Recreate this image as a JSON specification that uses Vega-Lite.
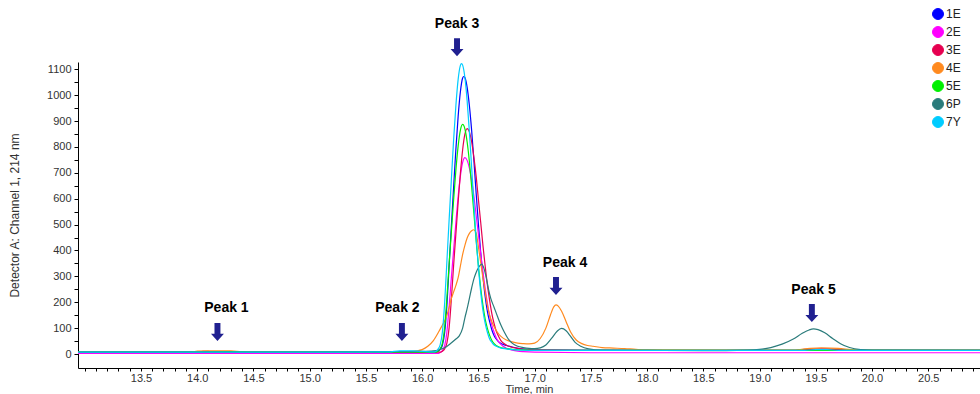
{
  "$schema": "https://vega.github.io/schema/vega-lite/v6.json",
  "width": 902,
  "height": 306,
  "autosize": "none",
  "padding": {"left": 78, "top": 62, "right": 0, "bottom": 26},
  "background": "#ffffff",
  "config": {
    "view": {"stroke": null},
    "font": "Liberation Sans",
    "axis": {"grid": false, "domainColor": "#000", "tickColor": "#000", "tickSize": 4, "labelColor": "#333", "labelFontSize": 11, "labelFont": "Liberation Sans", "titleFont": "Liberation Sans", "titleFontSize": 11, "titleFontWeight": "normal", "titleColor": "#333", "labelOverlap": false}
  },
  "datasets": {
    "chrom": [
      {"s":"1E","t":12.94,"v":7},{"s":"1E","t":14.0,"v":7},{"s":"1E","t":15.0,"v":7},{"s":"1E","t":15.5,"v":8},{"s":"1E","t":16.0,"v":8},{"s":"1E","t":16.12,"v":8},{"s":"1E","t":16.14,"v":10},{"s":"1E","t":16.16,"v":18},{"s":"1E","t":16.18,"v":34},{"s":"1E","t":16.20,"v":82},{"s":"1E","t":16.22,"v":188},{"s":"1E","t":16.24,"v":342},{"s":"1E","t":16.26,"v":497},{"s":"1E","t":16.28,"v":646},{"s":"1E","t":16.30,"v":792},{"s":"1E","t":16.32,"v":918},{"s":"1E","t":16.34,"v":1013},{"s":"1E","t":16.36,"v":1066},{"s":"1E","t":16.37,"v":1072},{"s":"1E","t":16.38,"v":1068},{"s":"1E","t":16.40,"v":1030},{"s":"1E","t":16.42,"v":959},{"s":"1E","t":16.44,"v":864},{"s":"1E","t":16.46,"v":748},{"s":"1E","t":16.48,"v":622},{"s":"1E","t":16.50,"v":503},{"s":"1E","t":16.52,"v":395},{"s":"1E","t":16.54,"v":302},{"s":"1E","t":16.56,"v":223},{"s":"1E","t":16.58,"v":165},{"s":"1E","t":16.60,"v":125},{"s":"1E","t":16.62,"v":93},{"s":"1E","t":16.64,"v":71},{"s":"1E","t":16.66,"v":57},{"s":"1E","t":16.68,"v":47},{"s":"1E","t":16.70,"v":41},{"s":"1E","t":16.75,"v":33},{"s":"1E","t":16.80,"v":27},{"s":"1E","t":16.85,"v":22},{"s":"1E","t":16.90,"v":19},{"s":"1E","t":17.00,"v":16},{"s":"1E","t":17.5,"v":14},{"s":"1E","t":19.3,"v":14},{"s":"1E","t":19.45,"v":18},{"s":"1E","t":19.6,"v":19},{"s":"1E","t":19.75,"v":16},{"s":"1E","t":19.9,"v":14},{"s":"1E","t":20.96,"v":14},
      {"s":"2E","t":12.94,"v":2},{"s":"2E","t":15.0,"v":2},{"s":"2E","t":16.0,"v":2},{"s":"2E","t":16.14,"v":2},{"s":"2E","t":16.16,"v":6},{"s":"2E","t":16.18,"v":13},{"s":"2E","t":16.20,"v":32},{"s":"2E","t":16.22,"v":85},{"s":"2E","t":16.24,"v":184},{"s":"2E","t":16.26,"v":297},{"s":"2E","t":16.28,"v":403},{"s":"2E","t":16.30,"v":509},{"s":"2E","t":16.32,"v":608},{"s":"2E","t":16.34,"v":687},{"s":"2E","t":16.36,"v":740},{"s":"2E","t":16.38,"v":759},{"s":"2E","t":16.40,"v":748},{"s":"2E","t":16.42,"v":718},{"s":"2E","t":16.44,"v":672},{"s":"2E","t":16.46,"v":610},{"s":"2E","t":16.48,"v":537},{"s":"2E","t":16.50,"v":463},{"s":"2E","t":16.52,"v":390},{"s":"2E","t":16.54,"v":318},{"s":"2E","t":16.56,"v":254},{"s":"2E","t":16.58,"v":197},{"s":"2E","t":16.60,"v":148},{"s":"2E","t":16.62,"v":111},{"s":"2E","t":16.64,"v":84},{"s":"2E","t":16.66,"v":62},{"s":"2E","t":16.68,"v":48},{"s":"2E","t":16.70,"v":37},{"s":"2E","t":16.75,"v":22},{"s":"2E","t":16.80,"v":15},{"s":"2E","t":16.85,"v":11},{"s":"2E","t":16.90,"v":9},{"s":"2E","t":17.00,"v":7},{"s":"2E","t":17.5,"v":5},{"s":"2E","t":20.96,"v":5},
      {"s":"3E","t":12.94,"v":7},{"s":"3E","t":14.0,"v":7},{"s":"3E","t":14.05,"v":10},{"s":"3E","t":14.1,"v":10},{"s":"3E","t":14.12,"v":7},{"s":"3E","t":15.0,"v":7},{"s":"3E","t":16.0,"v":7},{"s":"3E","t":16.16,"v":7},{"s":"3E","t":16.18,"v":11},{"s":"3E","t":16.20,"v":20},{"s":"3E","t":16.22,"v":42},{"s":"3E","t":16.24,"v":102},{"s":"3E","t":16.26,"v":214},{"s":"3E","t":16.28,"v":344},{"s":"3E","t":16.30,"v":465},{"s":"3E","t":16.32,"v":586},{"s":"3E","t":16.34,"v":698},{"s":"3E","t":16.36,"v":789},{"s":"3E","t":16.38,"v":849},{"s":"3E","t":16.40,"v":871},{"s":"3E","t":16.42,"v":858},{"s":"3E","t":16.44,"v":820},{"s":"3E","t":16.46,"v":760},{"s":"3E","t":16.48,"v":687},{"s":"3E","t":16.50,"v":598},{"s":"3E","t":16.52,"v":511},{"s":"3E","t":16.54,"v":421},{"s":"3E","t":16.56,"v":341},{"s":"3E","t":16.58,"v":267},{"s":"3E","t":16.60,"v":207},{"s":"3E","t":16.62,"v":155},{"s":"3E","t":16.64,"v":117},{"s":"3E","t":16.66,"v":87},{"s":"3E","t":16.68,"v":68},{"s":"3E","t":16.70,"v":52},{"s":"3E","t":16.75,"v":34},{"s":"3E","t":16.80,"v":26},{"s":"3E","t":16.85,"v":22},{"s":"3E","t":16.90,"v":19},{"s":"3E","t":17.00,"v":16},{"s":"3E","t":17.5,"v":14},{"s":"3E","t":19.3,"v":14},{"s":"3E","t":19.4,"v":18},{"s":"3E","t":19.55,"v":19},{"s":"3E","t":19.7,"v":18},{"s":"3E","t":19.8,"v":14},{"s":"3E","t":20.96,"v":14},
      {"s":"4E","t":12.94,"v":7},{"s":"4E","t":13.95,"v":7},{"s":"4E","t":14.0,"v":11},{"s":"4E","t":14.1,"v":12},{"s":"4E","t":14.3,"v":12},{"s":"4E","t":14.4,"v":9},{"s":"4E","t":15.0,"v":8},{"s":"4E","t":15.5,"v":8},{"s":"4E","t":15.8,"v":9},{"s":"4E","t":15.9,"v":10},{"s":"4E","t":15.95,"v":12},{"s":"4E","t":16.00,"v":17},{"s":"4E","t":16.05,"v":30},{"s":"4E","t":16.10,"v":52},{"s":"4E","t":16.15,"v":88},{"s":"4E","t":16.18,"v":112},{"s":"4E","t":16.20,"v":128},{"s":"4E","t":16.22,"v":150},{"s":"4E","t":16.24,"v":180},{"s":"4E","t":16.26,"v":215},{"s":"4E","t":16.28,"v":240},{"s":"4E","t":16.30,"v":265},{"s":"4E","t":16.32,"v":295},{"s":"4E","t":16.34,"v":340},{"s":"4E","t":16.36,"v":385},{"s":"4E","t":16.38,"v":420},{"s":"4E","t":16.40,"v":448},{"s":"4E","t":16.42,"v":466},{"s":"4E","t":16.44,"v":476},{"s":"4E","t":16.46,"v":480},{"s":"4E","t":16.48,"v":468},{"s":"4E","t":16.50,"v":415},{"s":"4E","t":16.52,"v":355},{"s":"4E","t":16.54,"v":295},{"s":"4E","t":16.56,"v":240},{"s":"4E","t":16.58,"v":188},{"s":"4E","t":16.60,"v":150},{"s":"4E","t":16.62,"v":125},{"s":"4E","t":16.64,"v":105},{"s":"4E","t":16.66,"v":90},{"s":"4E","t":16.70,"v":68},{"s":"4E","t":16.75,"v":54},{"s":"4E","t":16.80,"v":47},{"s":"4E","t":16.85,"v":42},{"s":"4E","t":16.90,"v":40},{"s":"4E","t":16.95,"v":39},{"s":"4E","t":17.00,"v":42},{"s":"4E","t":17.05,"v":60},{"s":"4E","t":17.10,"v":100},{"s":"4E","t":17.14,"v":150},{"s":"4E","t":17.17,"v":182},{"s":"4E","t":17.19,"v":190},{"s":"4E","t":17.21,"v":185},{"s":"4E","t":17.24,"v":165},{"s":"4E","t":17.28,"v":125},{"s":"4E","t":17.32,"v":85},{"s":"4E","t":17.37,"v":54},{"s":"4E","t":17.42,"v":40},{"s":"4E","t":17.47,"v":33},{"s":"4E","t":17.52,"v":30},{"s":"4E","t":17.60,"v":25},{"s":"4E","t":17.70,"v":23},{"s":"4E","t":17.80,"v":21},{"s":"4E","t":17.90,"v":18},{"s":"4E","t":18.00,"v":16},{"s":"4E","t":19.3,"v":15},{"s":"4E","t":19.45,"v":22},{"s":"4E","t":19.55,"v":24},{"s":"4E","t":19.7,"v":22},{"s":"4E","t":19.85,"v":16},{"s":"4E","t":20.96,"v":15},
      {"s":"5E","t":12.94,"v":7},{"s":"5E","t":14.0,"v":7},{"s":"5E","t":14.3,"v":9},{"s":"5E","t":14.5,"v":7},{"s":"5E","t":15.0,"v":7},{"s":"5E","t":16.0,"v":7},{"s":"5E","t":16.12,"v":7},{"s":"5E","t":16.14,"v":11},{"s":"5E","t":16.16,"v":20},{"s":"5E","t":16.18,"v":42},{"s":"5E","t":16.20,"v":104},{"s":"5E","t":16.22,"v":218},{"s":"5E","t":16.24,"v":350},{"s":"5E","t":16.26,"v":473},{"s":"5E","t":16.28,"v":597},{"s":"5E","t":16.30,"v":711},{"s":"5E","t":16.32,"v":803},{"s":"5E","t":16.34,"v":865},{"s":"5E","t":16.36,"v":887},{"s":"5E","t":16.38,"v":870},{"s":"5E","t":16.40,"v":819},{"s":"5E","t":16.42,"v":743},{"s":"5E","t":16.44,"v":647},{"s":"5E","t":16.46,"v":544},{"s":"5E","t":16.48,"v":438},{"s":"5E","t":16.50,"v":342},{"s":"5E","t":16.52,"v":258},{"s":"5E","t":16.54,"v":190},{"s":"5E","t":16.56,"v":136},{"s":"5E","t":16.58,"v":99},{"s":"5E","t":16.60,"v":72},{"s":"5E","t":16.62,"v":52},{"s":"5E","t":16.64,"v":40},{"s":"5E","t":16.66,"v":32},{"s":"5E","t":16.68,"v":28},{"s":"5E","t":16.70,"v":25},{"s":"5E","t":16.75,"v":21},{"s":"5E","t":16.80,"v":18},{"s":"5E","t":16.90,"v":16},{"s":"5E","t":17.00,"v":14},{"s":"5E","t":20.96,"v":14},
      {"s":"6P","t":12.94,"v":7},{"s":"6P","t":14.0,"v":7},{"s":"6P","t":15.0,"v":7},{"s":"6P","t":15.8,"v":9},{"s":"6P","t":16.00,"v":10},{"s":"6P","t":16.10,"v":12},{"s":"6P","t":16.15,"v":16},{"s":"6P","t":16.20,"v":24},{"s":"6P","t":16.25,"v":40},{"s":"6P","t":16.30,"v":58},{"s":"6P","t":16.33,"v":70},{"s":"6P","t":16.36,"v":100},{"s":"6P","t":16.38,"v":140},{"s":"6P","t":16.40,"v":175},{"s":"6P","t":16.42,"v":215},{"s":"6P","t":16.44,"v":255},{"s":"6P","t":16.46,"v":290},{"s":"6P","t":16.48,"v":315},{"s":"6P","t":16.50,"v":333},{"s":"6P","t":16.52,"v":345},{"s":"6P","t":16.53,"v":347},{"s":"6P","t":16.55,"v":330},{"s":"6P","t":16.57,"v":295},{"s":"6P","t":16.59,"v":250},{"s":"6P","t":16.61,"v":215},{"s":"6P","t":16.64,"v":180},{"s":"6P","t":16.67,"v":145},{"s":"6P","t":16.70,"v":112},{"s":"6P","t":16.73,"v":85},{"s":"6P","t":16.76,"v":62},{"s":"6P","t":16.80,"v":42},{"s":"6P","t":16.85,"v":30},{"s":"6P","t":16.90,"v":25},{"s":"6P","t":16.95,"v":22},{"s":"6P","t":17.00,"v":21},{"s":"6P","t":17.05,"v":24},{"s":"6P","t":17.10,"v":35},{"s":"6P","t":17.15,"v":60},{"s":"6P","t":17.20,"v":88},{"s":"6P","t":17.24,"v":99},{"s":"6P","t":17.28,"v":90},{"s":"6P","t":17.32,"v":68},{"s":"6P","t":17.36,"v":45},{"s":"6P","t":17.41,"v":30},{"s":"6P","t":17.48,"v":20},{"s":"6P","t":17.60,"v":15},{"s":"6P","t":18.0,"v":14},{"s":"6P","t":18.5,"v":13},{"s":"6P","t":18.9,"v":15},{"s":"6P","t":19.0,"v":18},{"s":"6P","t":19.1,"v":25},{"s":"6P","t":19.2,"v":38},{"s":"6P","t":19.3,"v":58},{"s":"6P","t":19.38,"v":80},{"s":"6P","t":19.44,"v":93},{"s":"6P","t":19.48,"v":97},{"s":"6P","t":19.52,"v":94},{"s":"6P","t":19.58,"v":82},{"s":"6P","t":19.65,"v":60},{"s":"6P","t":19.72,"v":40},{"s":"6P","t":19.80,"v":25},{"s":"6P","t":19.90,"v":17},{"s":"6P","t":20.0,"v":15},{"s":"6P","t":20.96,"v":14},
      {"s":"7Y","t":12.94,"v":7},{"s":"7Y","t":14.0,"v":7},{"s":"7Y","t":15.0,"v":7},{"s":"7Y","t":15.7,"v":8},{"s":"7Y","t":15.8,"v":12},{"s":"7Y","t":15.9,"v":12},{"s":"7Y","t":16.0,"v":10},{"s":"7Y","t":16.10,"v":8},{"s":"7Y","t":16.12,"v":10},{"s":"7Y","t":16.14,"v":18},{"s":"7Y","t":16.16,"v":35},{"s":"7Y","t":16.18,"v":85},{"s":"7Y","t":16.20,"v":197},{"s":"7Y","t":16.22,"v":358},{"s":"7Y","t":16.24,"v":520},{"s":"7Y","t":16.26,"v":676},{"s":"7Y","t":16.28,"v":829},{"s":"7Y","t":16.30,"v":960},{"s":"7Y","t":16.32,"v":1061},{"s":"7Y","t":16.34,"v":1115},{"s":"7Y","t":16.35,"v":1122},{"s":"7Y","t":16.36,"v":1116},{"s":"7Y","t":16.38,"v":1068},{"s":"7Y","t":16.40,"v":978},{"s":"7Y","t":16.42,"v":858},{"s":"7Y","t":16.44,"v":721},{"s":"7Y","t":16.46,"v":579},{"s":"7Y","t":16.48,"v":448},{"s":"7Y","t":16.50,"v":335},{"s":"7Y","t":16.52,"v":241},{"s":"7Y","t":16.54,"v":169},{"s":"7Y","t":16.56,"v":119},{"s":"7Y","t":16.58,"v":84},{"s":"7Y","t":16.60,"v":58},{"s":"7Y","t":16.62,"v":45},{"s":"7Y","t":16.64,"v":35},{"s":"7Y","t":16.66,"v":30},{"s":"7Y","t":16.68,"v":26},{"s":"7Y","t":16.70,"v":23},{"s":"7Y","t":16.75,"v":20},{"s":"7Y","t":16.80,"v":17},{"s":"7Y","t":16.90,"v":15},{"s":"7Y","t":17.00,"v":14},{"s":"7Y","t":19.4,"v":14},{"s":"7Y","t":19.5,"v":17},{"s":"7Y","t":19.6,"v":17},{"s":"7Y","t":19.7,"v":14},{"s":"7Y","t":20.96,"v":14}
    ],
    "labels": [
      {"label":"Peak 1","t":14.26,"v":178},
      {"label":"Peak 2","t":15.78,"v":178},
      {"label":"Peak 3","t":16.31,"v":1275},
      {"label":"Peak 4","t":17.27,"v":351},
      {"label":"Peak 5","t":19.48,"v":247}
    ],
    "arrows": [
      {"peak":"Peak 1","t":14.18,"v":85},
      {"peak":"Peak 2","t":15.82,"v":85},
      {"peak":"Peak 3","t":16.31,"v":1185},
      {"peak":"Peak 4","t":17.19,"v":263},
      {"peak":"Peak 5","t":19.465,"v":158}
    ]
  },
  "layer": [
    {
      "data": {"name": "chrom"},
      "mark": {"type": "line", "strokeWidth": 1.2, "interpolate": "monotone"},
      "encoding": {
        "x": {"field": "t", "type": "quantitative", "scale": {"domain": [12.94, 20.96], "nice": false, "zero": false},
          "axis": {"title": "Time, min", "tickCount": 200, "tickSize": 3, "values": [13,13.1,13.2,13.3,13.4,13.5,13.6,13.7,13.8,13.9,14,14.1,14.2,14.3,14.4,14.5,14.6,14.7,14.8,14.9,15,15.1,15.2,15.3,15.4,15.5,15.6,15.7,15.8,15.9,16,16.1,16.2,16.3,16.4,16.5,16.6,16.7,16.8,16.9,17,17.1,17.2,17.3,17.4,17.5,17.6,17.7,17.8,17.9,18,18.1,18.2,18.3,18.4,18.5,18.6,18.7,18.8,18.9,19,19.1,19.2,19.3,19.4,19.5,19.6,19.7,19.8,19.9,20,20.1,20.2,20.3,20.4,20.5,20.6,20.7,20.8,20.9],
            "labelExpr": "(abs(datum.value*2 - round(datum.value*2)) < 0.01 && datum.value > 13.2) ? format(datum.value, '.1f') : ''", "labelOverlap": false, "labelPadding": 1, "titleBaseline": "alphabetic", "titleY": 24, "labelFlush": false}},
        "y": {"field": "v", "type": "quantitative", "scale": {"domain": [-54, 1128], "nice": false, "zero": false},
          "axis": {"title": "Detector A: Channel 1, 214 nm", "tickCount": 200, "values": [0,50,100,150,200,250,300,350,400,450,500,550,600,650,700,750,800,850,900,950,1000,1050,1100],
            "labelExpr": "datum.value % 100 == 0 ? format(datum.value, 'd') : ''", "labelOverlap": false, "labelPadding": 3, "titleX": -57, "titleFontSize": 12}},
        "color": {"field": "s", "type": "nominal",
          "scale": {"domain": ["1E","2E","3E","4E","5E","6P","7Y"], "range": ["#0000FF","#FF00FF","#E60050","#FF8A1F","#00F000","#2A7B7B","#00CCFF"]},
          "legend": {"orient": "none", "legendX": 854, "legendY": -54, "title": null, "symbolType": "circle", "symbolSize": 120, "labelFontSize": 12, "labelColor": "#222", "labelFont": "Liberation Sans", "rowPadding": 2, "labelOffset": 2, "padding": 0,
            "encode": {"symbols": {"update": {"fill": {"field": "value", "scale": "color"}, "fillOpacity": {"value": 1}, "stroke": {"value": "#333"}, "strokeWidth": {"value": 1}}}}}}
      }
    },
    {
      "data": {"name": "labels"},
      "mark": {"type": "text", "font": "Liberation Sans", "fontSize": 14, "fontWeight": "bold", "color": "#000", "baseline": "middle", "align": "center"},
      "encoding": {
        "x": {"field": "t", "type": "quantitative"},
        "y": {"field": "v", "type": "quantitative"},
        "text": {"field": "label"}
      }
    },
    {
      "data": {"name": "arrows"},
      "mark": {"type": "point", "shape": "M-0.33,-1L0.33,-1L0.33,0.2L0.72,0.2L0,1L-0.72,0.2L-0.33,0.2Z", "filled": true, "size": 324, "color": "#202090", "opacity": 1},
      "encoding": {
        "x": {"field": "t", "type": "quantitative"},
        "y": {"field": "v", "type": "quantitative"}
      }
    }
  ]
}
